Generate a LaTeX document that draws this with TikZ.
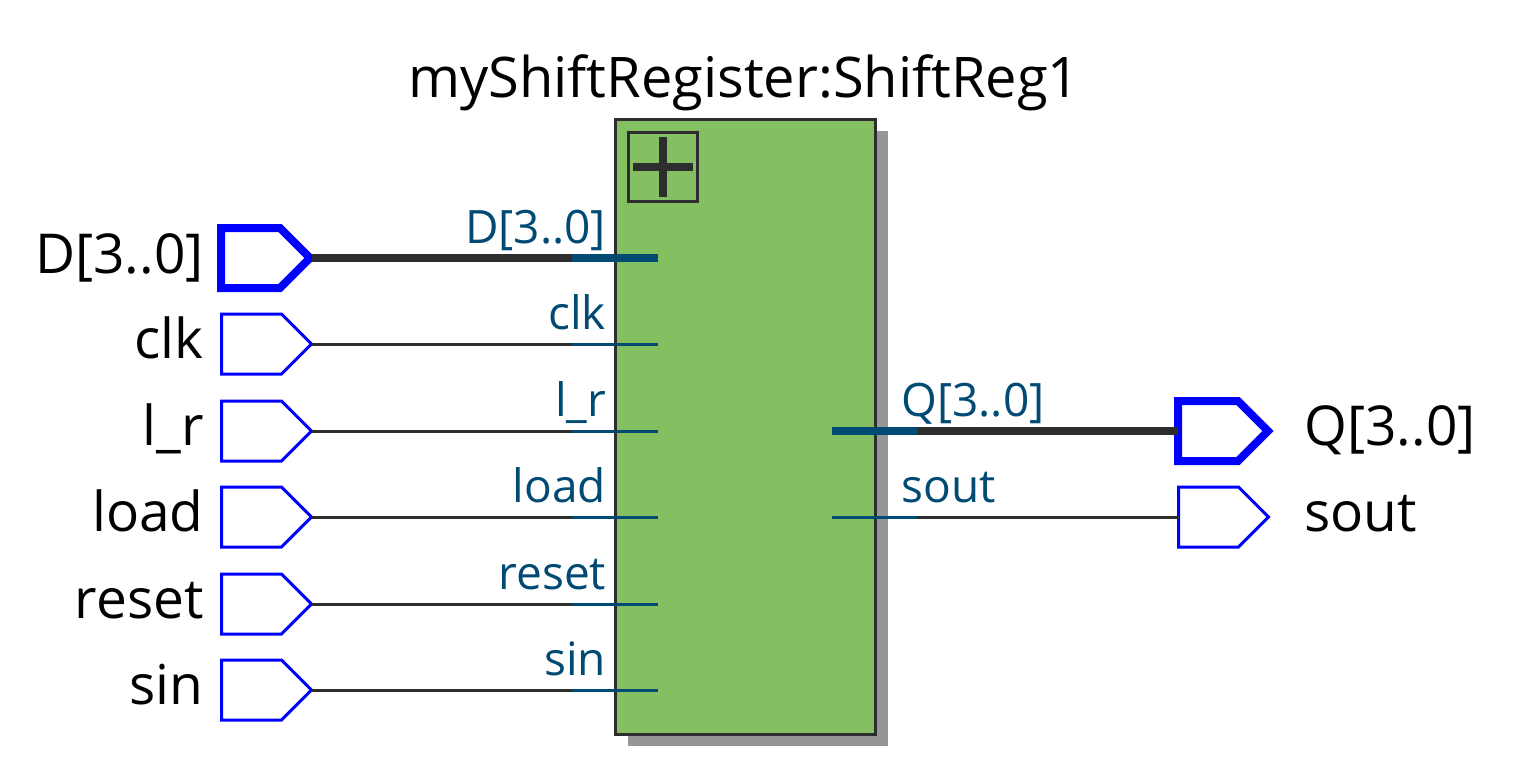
\documentclass[tikz,border=0pt]{standalone}
\usepackage{fontspec}
\setmainfont{Open Sans}
\usetikzlibrary{shapes.symbols,shadows,positioning}
\definecolor{blockgreen}{HTML}{84BF61}
\definecolor{wiredark}{HTML}{2D2D2D}
\definecolor{portblue}{HTML}{004A73}
\definecolor{shadowgray}{HTML}{969696}

\begin{document}
\begin{tikzpicture}[
        x=0.5pt, y=-0.5pt,
        % Block styles
        block/.style={
            rectangle,
            draw=wiredark,
            line width=1.5pt,
            fill=blockgreen,
            minimum width=130pt,
            minimum height=307.5pt,
            inner sep=0pt,
            drop shadow={shadow xshift=6.25pt, shadow yshift=-6pt, fill=shadowgray, opacity=1}
        },
        expander/.style={
            rectangle,
            draw=wiredark,
            line width=1.5pt,
            minimum width=34.5pt,
            minimum height=34.5pt,
            inner sep=0pt
        },
        pin/.style={
            signal, signal to=east, signal pointer angle=90,
            draw=blue,
            fill=white,
            line width=1.5pt,
            minimum width=45pt,
            minimum height=30pt,
            inner sep=0pt,
            outer sep=0pt
        },
        buspin/.style={pin, line width=4pt},
        pinlabel/.style={font=\fontsize{27.5}{30}\selectfont, inner sep=0pt},
        portlabel/.style={font=\fontsize{23}{26}\selectfont, text=portblue, inner sep=0pt},
        wire/.style={draw=wiredark, line width=1.5pt},
        stub/.style={draw=portblue, line width=1.5pt},
        buswire/.style={draw=wiredark, line width=4pt},
        busstub/.style={draw=portblue, line width=4pt}
    ]
    \useasboundingbox (0,0) rectangle (1520,771);

    % Module
    \node[block] (shiftreg) at (745.25, 426.5) {};
    \node[anchor=base, font=\fontsize{28}{32}\selectfont, inner sep=0pt] (title) at (744, 97) {myShiftRegister:ShiftReg1};
    \node[expander] (expand) at (663, 167) {};
    \draw[line width=4pt, draw=wiredark] (expand.center) ++(-30,0) coordinate (plusL) -- ++(60,0) coordinate (plusR);
    \draw[line width=4pt, draw=wiredark] (expand.center) ++(0,-30) coordinate (plusT) -- ++(0,60) coordinate (plusB);

    % Input pins
    \node[buspin, minimum width=44.5pt] (pinD) at (250.5, 258) {};
    \node[pin] (pinClk) at (251.5, 344) {};
    \node[pin] (pinLr) at (251.5, 431) {};
    \node[pin] (pinLoad) at (251.5, 517) {};
    \node[pin] (pinReset) at (251.5, 604) {};
    \node[pin] (pinSin) at (251.5, 690) {};

    % Output pins
    \node[buspin] (pinQ) at (1208, 431) {};
    \node[pin] (pinSout) at (1208.5, 517) {};

    % Pin labels
    \node[pinlabel, anchor=base east] (lblD) at (204, 273) {D[3..0]};
    \node[pinlabel, anchor=base east] (lblClk) at (204, 358) {clk};
    \node[pinlabel, anchor=base east] (lblLr) at (204, 445) {l\_r};
    \node[pinlabel, anchor=base east] (lblLoad) at (204, 531) {load};
    \node[pinlabel, anchor=base east] (lblReset) at (204, 618) {reset};
    \node[pinlabel, anchor=base east] (lblSin) at (204, 704) {sin};
    \node[pinlabel, anchor=base west] (lblQ) at (1304, 445) {Q[3..0]};
    \node[pinlabel, anchor=base west] (lblSout) at (1304, 531) {sout};

    % Port labels
    \node[portlabel, anchor=base east] (portD) at (606.5, 243) {D[3..0]};
    \node[portlabel, anchor=base east] (portClk) at (606.5, 329) {clk};
    \node[portlabel, anchor=base east] (portLr) at (606.5, 416) {l\_r};
    \node[portlabel, anchor=base east] (portLoad) at (606.5, 502) {load};
    \node[portlabel, anchor=base east] (portReset) at (606.5, 589) {reset};
    \node[portlabel, anchor=base east] (portSin) at (606.5, 675) {sin};
    \node[portlabel, anchor=base west] (portQ) at (901, 416) {Q[3..0]};
    \node[portlabel, anchor=base west] (portSout) at (901, 502) {sout};

    % Port ends
    \coordinate (inD) at (658, 258);
    \coordinate (inClk) at (658, 344);
    \coordinate (inLr) at (658, 431);
    \coordinate (inLoad) at (658, 517);
    \coordinate (inReset) at (658, 604);
    \coordinate (inSin) at (658, 690);
    \coordinate (outQ) at (831.5, 431);
    \coordinate (outSout) at (831.5, 517);

    % Connections
    \draw[buswire] ([xshift=1pt]pinD.east) -- (inD);
    \draw[busstub] ([xshift=-43pt]inD) -- (inD);
    \draw[wire] (pinClk.east) -- (inClk);
    \draw[stub] ([xshift=-43pt]inClk) -- (inClk);
    \draw[wire] (pinLr.east) -- (inLr);
    \draw[stub] ([xshift=-43pt]inLr) -- (inLr);
    \draw[wire] (pinLoad.east) -- (inLoad);
    \draw[stub] ([xshift=-43pt]inLoad) -- (inLoad);
    \draw[wire] (pinReset.east) -- (inReset);
    \draw[stub] ([xshift=-43pt]inReset) -- (inReset);
    \draw[wire] (pinSin.east) -- (inSin);
    \draw[stub] ([xshift=-43pt]inSin) -- (inSin);
    \draw[buswire] (outQ) -- (pinQ.west);
    \draw[busstub] (outQ) -- ([xshift=43pt]outQ);
    \draw[wire] (outSout) -- (pinSout.west);
    \draw[stub] (outSout) -- ([xshift=43pt]outSout);

\end{tikzpicture}
\end{document}
